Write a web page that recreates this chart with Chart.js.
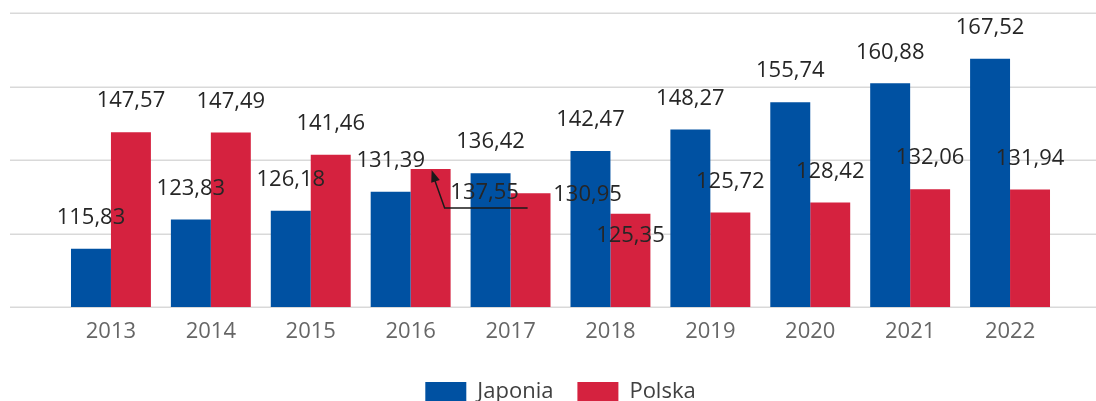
<!DOCTYPE html>
<html>
<head>
<meta charset="utf-8">
<script src="https://cdn.jsdelivr.net/npm/chart.js@4.4.1/dist/chart.umd.min.js"></script>
<style>
  html, body { margin: 0; padding: 0; background: #fff; overflow: hidden; }
  #wrap { width: 1096px; height: 401px; overflow: hidden; position: relative; }
  canvas { display: block; }
</style>
</head>
<body>
<div id="wrap"><canvas id="c" width="1096" height="413"></canvas></div>
<script>
const years = ['2013','2014','2015','2016','2017','2018','2019','2020','2021','2022'];
const japonia = [115.83, 123.83, 126.18, 131.39, 136.42, 142.47, 148.27, 155.74, 160.88, 167.52];
const polska  = [147.57, 147.49, 141.46, 137.55, 130.95, 125.35, 125.72, 128.42, 132.06, 131.94];
const seriesNames = ['Japonia', 'Polska'];
const yMin = 100, yMax = 180, yStep = 20;

const BLUE = '#0051A2';
const RED = '#D5223F';
const FONT = "'Open Sans', 'Noto Sans', sans-serif";

// label placement tweaks (dataset index -> category index -> [dx, dy from bar top])
const labelMoves = {
  1: { 3: [54, 24], 4: [57, 1], 5: [0, 22] }
};

function fmt(v) { return v.toFixed(2).replace('.', ','); }

const gridPlugin = {
  id: 'fullGrid',
  beforeDatasetsDraw(chart) {
    const ctx = chart.ctx, y = chart.scales.y;
    ctx.save();
    ctx.strokeStyle = '#d9d9d9';
    ctx.lineWidth = 1.5;
    for (let v = yMin; v <= yMax; v += yStep) {
      const py = Math.round(y.getPixelForValue(v)) + 0.25;
      ctx.beginPath();
      ctx.moveTo(10, py);
      ctx.lineTo(chart.width, py);
      ctx.stroke();
    }
    ctx.restore();
  }
};

const labelPlugin = {
  id: 'valLabels',
  afterDatasetsDraw(chart) {
    const ctx = chart.ctx;
    ctx.save();
    ctx.font = '22px ' + FONT;
    ctx.fillStyle = '#262626';
    ctx.textAlign = 'center';
    ctx.textBaseline = 'middle';
    chart.data.datasets.forEach((ds, di) => {
      const meta = chart.getDatasetMeta(di);
      meta.data.forEach((bar, i) => {
        const mv = (labelMoves[di] || {})[i];
        let lx = bar.x, ly = bar.y - 31;
        if (mv) { lx = bar.x + mv[0]; ly = bar.y + mv[1]; }
        if (di === 1 && i === 3) {
          // leader line with arrow
          ctx.save();
          ctx.strokeStyle = '#1a1a1a';
          ctx.fillStyle = '#1a1a1a';
          ctx.lineWidth = 1.5;
          const sx = lx - 40, sy = ly + 15;
          const tx = bar.x + 1, ty = bar.y + 1;
          ctx.beginPath();
          ctx.moveTo(lx + 43, sy);
          ctx.lineTo(sx, sy);
          ctx.lineTo(tx + 2, ty + 7);
          ctx.stroke();
          const ang = Math.atan2(ty - sy, tx - sx);
          const L = 12, W = 4.5;
          ctx.beginPath();
          ctx.moveTo(tx, ty);
          ctx.lineTo(tx - L * Math.cos(ang) + W * Math.sin(ang), ty - L * Math.sin(ang) - W * Math.cos(ang));
          ctx.lineTo(tx - L * Math.cos(ang) - W * Math.sin(ang), ty - L * Math.sin(ang) + W * Math.cos(ang));
          ctx.closePath();
          ctx.fill();
          ctx.restore();
        }
        ctx.fillText(fmt(ds.data[i]), lx, ly);
      });
    });
    ctx.restore();
  }
};

new Chart(document.getElementById('c'), {
  type: 'bar',
  data: {
    labels: years,
    datasets: [
      { label: seriesNames[0], data: japonia, backgroundColor: BLUE, borderWidth: 0 },
      { label: seriesNames[1], data: polska, backgroundColor: RED, borderWidth: 0 }
    ]
  },
  options: {
    responsive: false,
    animation: false,
    devicePixelRatio: 1,
    categoryPercentage: 0.8,
    barPercentage: 1.0,
    layout: { padding: { left: 61, right: 36, top: 13, bottom: 0 } },
    scales: {
      x: {
        grid: { display: false },
        border: { display: false },
        ticks: { color: '#666666', font: { family: FONT, size: 22 }, padding: 4 },
        afterFit(s) { s.height = 50; }
      },
      y: {
        display: false,
        min: yMin, max: yMax,
        ticks: { stepSize: yStep }
      }
    },
    plugins: {
      legend: {
        position: 'bottom',
        labels: {
          boxWidth: 41, boxHeight: 20, padding: 24,
          color: '#404040',
          font: { family: FONT, size: 22 }
        }
      },
      tooltip: { enabled: false }
    }
  },
  plugins: [gridPlugin, labelPlugin]
});
</script>
</body>
</html>
